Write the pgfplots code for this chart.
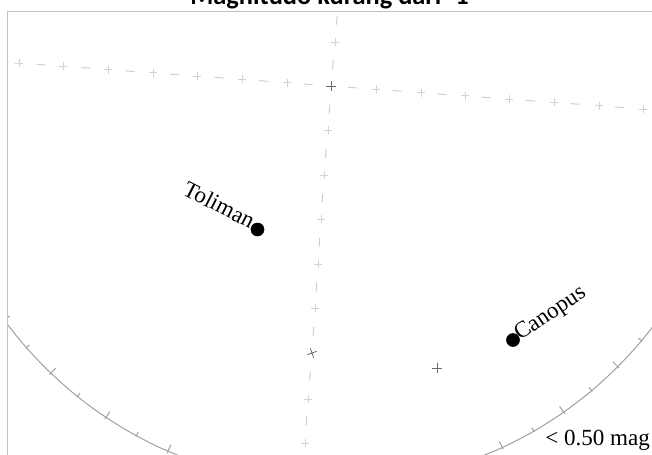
\documentclass[border=0pt]{standalone}
\usepackage{fontspec}
\setmainfont{Liberation Serif}
\newfontfamily\titlefont{Carlito}
\usepackage{pgfplots}
\pgfplotsset{compat=1.18}
\definecolor{framegray}{HTML}{C2C2C2}
\definecolor{gridgray}{HTML}{CFCFCF}
\definecolor{plusgray}{HTML}{D2D2D2}
\definecolor{darkplus}{HTML}{6A6A6A}
\definecolor{horizon}{HTML}{A0A0A0}
\begin{document}
\begin{tikzpicture}
\useasboundingbox (-5.625pt,0pt) rectangle (483.375pt,340.5pt);
\clip (-5.625pt,0pt) rectangle (483.375pt,340.5pt);
\begin{axis}[
  at={(0pt,0pt)}, anchor=south west,
  scale only axis, width=483.375pt, height=331.875pt,
  xmin=7.5, xmax=652, ymin=11.5, ymax=454, y dir=reverse,
  hide axis, clip mode=individual, unbounded coords=jump,
]
% horizontal grid line (dashed)
\addplot[gridgray, line width=0.75pt, no markers, dash pattern=on 6.75pt off 26.7pt, dash phase=20.1pt]
  coordinates {(19,63)(63,66.3)(108,69.6)(153,72.9)(197,76.1)(242,79.4)(287,82.7)(331,86)(376,89.3)(421,92.6)(465,95.9)(509,99.1)(554,102.4)(599,105.7)(643,109)(688,112.3)};
% vertical grid line (dashed)
\addplot[gridgray, line width=0.75pt, no markers, dash pattern=on 6.75pt off 26.7pt, dash phase=20.1pt]
  coordinates {(338.5,-2)(335,42)(331,86)(328,130)(324,175)(321,219)(318,264)(315,308)(312,353)(308,399)(305,443)(302,487)};
% light grid crosses
\addplot[only marks, mark=+, mark size=3pt, plusgray, mark options={line width=0.7pt}]
  coordinates {(19,63)(63,66.3)(108,69.6)(153,72.9)(197,76.1)(242,79.4)(287,82.7)(376,89.3)(421,92.6)(465,95.9)(509,99.1)(554,102.4)(599,105.7)(643,109)
  (335,42)(328,130)(324,175)(321,219)(318,264)(315,308)(308,399)(305,443)};
% dark crosses
\addplot[only marks, mark=+, mark size=3.75pt, darkplus, mark options={line width=0.6pt}]
  coordinates {(331,86)(437,368)};
\addplot[only marks, mark=+, mark size=3.75pt, darkplus, mark options={line width=0.6pt, rotate=20}]
  coordinates {(312,353)};
% horizon circle
\addplot[horizon, line width=0.75pt, no markers, smooth]
  coordinates {(-20.2,282.8)(-1.2,312.6)(20.4,340.7)(44.3,366.7)(70.3,390.6)(98.4,412.2)(128.3,431.2)(159.6,447.5)(192.3,461.0)};
\addplot[horizon, line width=0.75pt, no markers, smooth]
  coordinates {(682.2,282.8)(663.2,312.6)(641.6,340.7)(617.7,366.7)(591.7,390.6)(563.6,412.2)(533.8,431.2)(502.4,447.5)(469.7,461.0)};
% horizon ticks
\addplot[horizon, line width=0.75pt, no markers]
  coordinates {(9.8,315.9)(2.6,321.2) (nan,nan) (29.4,345.0)(25.6,348.3) (nan,nan) (55.7,368.1)(49.5,374.6) (nan,nan)
  (80.0,393.3)(76.9,397.2) (nan,nan) (109.9,411.6)(104.9,419.0) (nan,nan) (138.2,432.2)(135.8,436.5) (nan,nan)
  (170.8,444.9)(167.2,453.1) (nan,nan)
  (638.5,338.1)(642.4,341.3) (nan,nan) (612.8,361.8)(619.1,368.1) (nan,nan) (589.1,387.5)(592.3,391.4) (nan,nan)
  (559.6,406.4)(564.7,413.8) (nan,nan) (531.75,427.7)(534.25,432.0) (nan,nan) (499.4,441.2)(503.2,449.3)};
% stars
\addplot[only marks, mark=*, mark size=4.9pt, black]
  coordinates {(257.5,229.5)(513,340)};
% labels
\node[rotate=-27, anchor=base east, inner sep=0pt, font=\fontsize{17.3}{20}\selectfont] at (axis cs:250,229) {Toliman};
\node[rotate=34, anchor=base west, inner sep=0pt, font=\fontsize{17.3}{20}\selectfont] at (axis cs:520,341) {Canopus};
\node[anchor=base west, inner sep=0pt, font=\fontsize{17.3}{20}\selectfont] at (axis cs:545,445) {< 0.50 mag};
% frame
\draw[framegray, line width=1.3pt] (axis cs:7.5,470) -- (axis cs:7.5,11.5) -- (axis cs:670,11.5);
% title
\node[anchor=base, inner sep=0pt, font={\titlefont\bfseries\fontsize{19.8}{24}\selectfont}] at (axis cs:329.5,4) {Magnitudo kurang dari -1};
\end{axis}
\end{tikzpicture}
\end{document}
